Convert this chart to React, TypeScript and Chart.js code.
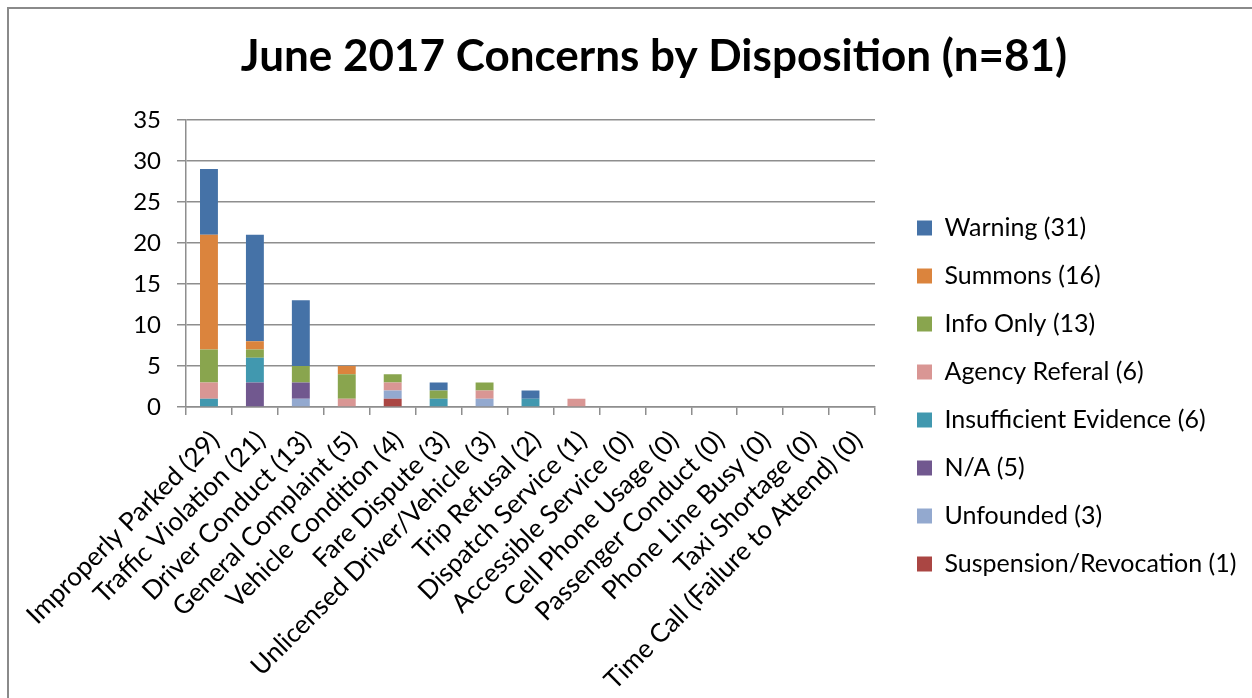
import React, { useEffect, useRef } from "react";
import { Chart, registerables } from "chart.js";

Chart.register(...registerables);

const categories = [
  "Improperly Parked (29)",
  "Traffic Violation (21)",
  "Driver Conduct (13)",
  "General Complaint (5)",
  "Vehicle Condition (4)",
  "Fare Dispute (3)",
  "Unlicensed Driver/Vehicle (3)",
  "Trip Refusal (2)",
  "Dispatch Service (1)",
  "Accessible Service (0)",
  "Cell Phone Usage (0)",
  "Passenger Conduct (0)",
  "Phone Line Busy (0)",
  "Taxi Shortage (0)",
  "Time Call (Failure to Attend) (0)",
];

// stacked from bottom to top
const suspension = [0, 0, 0, 0, 1, 0, 0, 0, 0, 0, 0, 0, 0, 0, 0];
const unfounded = [0, 0, 1, 0, 1, 0, 1, 0, 0, 0, 0, 0, 0, 0, 0];
const notApplicable = [0, 3, 2, 0, 0, 0, 0, 0, 0, 0, 0, 0, 0, 0, 0];
const insufficient = [1, 3, 0, 0, 0, 1, 0, 1, 0, 0, 0, 0, 0, 0, 0];
const agencyReferal = [2, 0, 0, 1, 1, 0, 1, 0, 1, 0, 0, 0, 0, 0, 0];
const infoOnly = [4, 1, 2, 3, 1, 1, 1, 0, 0, 0, 0, 0, 0, 0, 0];
const summons = [14, 1, 0, 1, 0, 0, 0, 0, 0, 0, 0, 0, 0, 0, 0];
const warning = [8, 13, 8, 0, 0, 1, 0, 1, 0, 0, 0, 0, 0, 0, 0];

const seriesNames = [
  "Suspension/Revocation (1)",
  "Unfounded (3)",
  "N/A (5)",
  "Insufficient Evidence (6)",
  "Agency Referal (6)",
  "Info Only (13)",
  "Summons (16)",
  "Warning (31)",
];
const seriesValues = [
  suspension,
  unfounded,
  notApplicable,
  insufficient,
  agencyReferal,
  infoOnly,
  summons,
  warning,
];
const seriesColors = [
  "#AA4643",
  "#93A9CF",
  "#71588F",
  "#4198AF",
  "#D99694",
  "#89A54E",
  "#DB843D",
  "#4572A7",
];

const yTicks = [0, 5, 10, 15, 20, 25, 30, 35];

const FONT = "Lato, 'Open Sans', sans-serif";
const GRID = "#8e8e8e";
const LEGEND_WIDTH = 405;

const legendWidthPlugin = {
  id: "legendWidth",
  afterInit(chart: any) {
    const legend = chart.legend;
    if (legend && !legend.__patched) {
      const orig = legend.fit;
      legend.fit = function () {
        orig.call(this);
        this.width = LEGEND_WIDTH;
      };
      legend.__patched = true;
    }
  },
};

export default function App() {
  const ref = useRef<HTMLCanvasElement | null>(null);

  useEffect(() => {
    if (!ref.current) return;
    const chart = new Chart(ref.current, {
      type: "bar",
      data: {
        labels: categories,
        datasets: seriesNames.map((name, i) => ({
          label: name,
          data: seriesValues[i],
          backgroundColor: seriesColors[i],
          borderWidth: 0,
          barPercentage: 0.39,
          categoryPercentage: 1,
        })),
      },
      plugins: [legendWidthPlugin],
      options: {
        responsive: false,
        animation: false,
        devicePixelRatio: 1,
        layout: { padding: { left: 0, right: 0, top: 0, bottom: 0 } },
        plugins: {
          title: {
            display: true,
            text: "June 2017 Concerns by Disposition (n=81)",
            color: "#000",
            font: { family: FONT, size: 44, weight: "bold" },
            padding: { top: 21, bottom: 37 },
          },
          legend: {
            display: true,
            position: "right",
            reverse: true,
            title: {
              display: true,
              text: " ",
              font: { size: 10, lineHeight: 1 },
              padding: { top: 75, bottom: 0 },
            },
            labels: {
              boxWidth: 15,
              boxHeight: 15,
              padding: 23,
              color: "#000",
              font: { family: FONT, size: 25 },
            },
          },
          tooltip: { enabled: false },
        },
        scales: {
          x: {
            stacked: true,
            grid: {
              drawOnChartArea: false,
              drawTicks: true,
              tickLength: 8,
              color: GRID,
              lineWidth: 1.5,
              offset: true,
            },
            border: { display: true, color: GRID, width: 1.5 },
            ticks: {
              color: "#000",
              font: { family: FONT, size: 26 },
              minRotation: 45,
              maxRotation: 45,
              autoSkip: false,
              padding: 10,
              labelOffset: 6,
            },
            afterFit: (scale: any) => {
              scale.height = 291;
            },
          },
          y: {
            stacked: true,
            min: 0,
            max: 35,
            afterBuildTicks: (scale: any) => {
              scale.ticks = yTicks.map((v) => ({ value: v }));
            },
            grid: { color: GRID, lineWidth: 1.5, tickLength: 9 },
            border: { display: true, color: GRID, width: 1.5 },
            ticks: {
              color: "#000",
              font: { family: FONT, size: 24 },
              padding: 16,
            },
            afterFit: (scale: any) => {
              scale.width = 177;
            },
          },
          gap: {
            type: "linear",
            position: "right",
            display: true,
            grid: { display: false, drawTicks: false },
            border: { display: false },
            ticks: { display: false },
            afterFit: (scale: any) => {
              scale.width = 19;
            },
          },
        },
      } as any,
    });
    return () => chart.destroy();
  }, []);

  return (
    <div>
      <div
        style={{
          position: "absolute",
          left: 8,
          top: -14,
          fontFamily: "'Liberation Sans', Arial, sans-serif",
          fontSize: 16,
          color: "#000",
        }}
      >
        Table 12.
      </div>
      <div
        style={{
          position: "absolute",
          left: 7,
          top: 7,
          width: 1245,
          height: 691,
          borderLeft: "2px solid #8a8a8a",
          borderTop: "2px solid #8a8a8a",
          overflow: "hidden",
          background: "#fff",
        }}
      >
        <canvas
          ref={ref}
          width={1290}
          height={689}
          style={{ width: 1290, height: 689, display: "block" }}
        />
      </div>
    </div>
  );
}
